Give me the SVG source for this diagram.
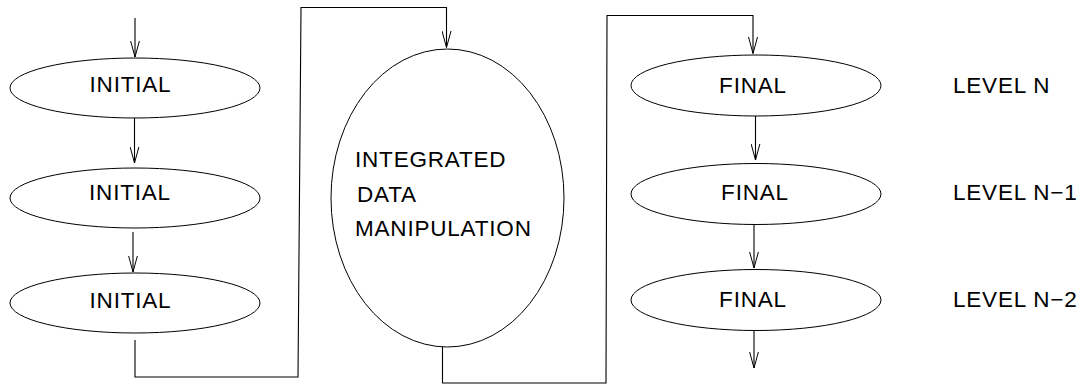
<svg xmlns="http://www.w3.org/2000/svg" width="1083" height="386" viewBox="0 0 1083 386">
<defs>
<style>
.n{fill:#fff;stroke:#000;stroke-width:1}
.c{fill:none;stroke:#000;stroke-width:1.1}
.t{font-family:"Liberation Sans",Arial,sans-serif;font-size:22.5px;letter-spacing:0.8px;fill:#000}
.m{text-anchor:middle}
</style>
<marker id="ah" viewBox="0 0 17 10" refX="16.5" refY="5" markerWidth="17" markerHeight="10" markerUnits="userSpaceOnUse" orient="auto">
<path d="M0,0.5 L16.5,5 L0,9.5" fill="none" stroke="#000" stroke-width="1"/>
</marker>
</defs>
<rect width="1083" height="386" fill="#fff"/>
<g id="connectors">
<path class="c" d="M135,18 L135,57" marker-end="url(#ah)"/>
<path class="c" d="M134.5,118 L134.5,163" marker-end="url(#ah)"/>
<path class="c" d="M133,232 L133,272" marker-end="url(#ah)"/>
<path class="c" d="M135,340 L135,377 L298,377 L301,7.5 L446.5,7.5 L446.5,47.5" marker-end="url(#ah)"/>
<path class="c" d="M442.5,347 L442.5,383 L606,383 L607,15.5 L753,15.5 L753,53.5" marker-end="url(#ah)"/>
<path class="c" d="M755.5,116 L755.5,160" marker-end="url(#ah)"/>
<path class="c" d="M754,225 L754,268" marker-end="url(#ah)"/>
<path class="c" d="M754,330 L754,368" marker-end="url(#ah)"/>
</g>
<g id="initial1"><ellipse class="n" cx="135" cy="88" rx="125" ry="30"/><text class="t m" x="130.5" y="92">INITIAL</text></g>
<g id="initial2"><ellipse class="n" cx="135" cy="198" rx="125" ry="30"/><text class="t m" x="130" y="200">INITIAL</text></g>
<g id="initial3"><ellipse class="n" cx="135" cy="303" rx="125" ry="30"/><text class="t m" x="130.5" y="308">INITIAL</text></g>
<g id="integrated"><ellipse class="n" cx="447.5" cy="198" rx="116.5" ry="149"/>
<text class="t" x="355" y="167">INTEGRATED</text>
<text class="t" x="357" y="202">DATA</text>
<text class="t" x="355" y="236">MANIPULATION</text></g>
<g id="final1"><ellipse class="n" cx="756" cy="85.5" rx="125" ry="30.5"/><text class="t m" x="753" y="93">FINAL</text></g>
<g id="final2"><ellipse class="n" cx="756" cy="194" rx="125" ry="30.5"/><text class="t m" x="755" y="200">FINAL</text></g>
<g id="final3"><ellipse class="n" cx="756" cy="300" rx="125" ry="30.5"/><text class="t m" x="753" y="307">FINAL</text></g>
<g id="levels">
<text class="t" x="953" y="93">LEVEL N</text>
<text class="t" x="953" y="200">LEVEL N−1</text>
<text class="t" x="953" y="307">LEVEL N−2</text>
</g>
</svg>
